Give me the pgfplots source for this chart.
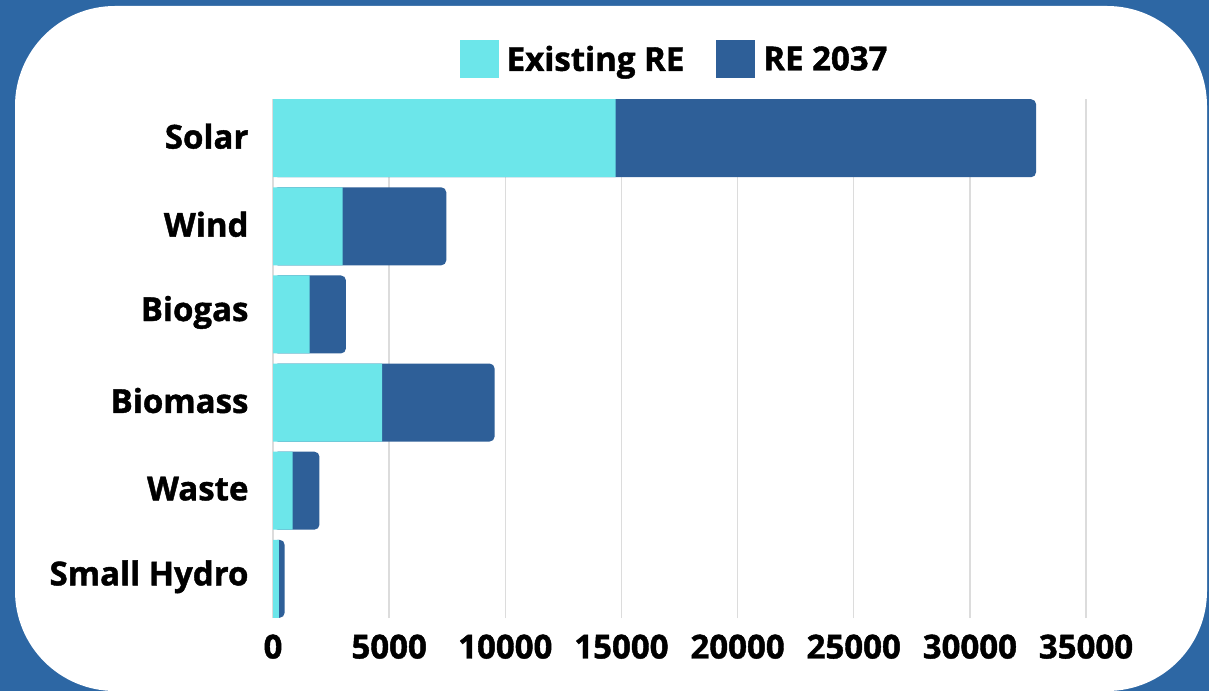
\documentclass[border=0pt]{standalone}
\usepackage{fontspec}
\setmainfont{Open Sans}[BoldFeatures={FakeBold=1.3}]
\usepackage{pgfplots}
\pgfplotsset{compat=1.18}
\definecolor{cyanre}{HTML}{6CE6EA}
\definecolor{bluere}{HTML}{2E5F98}
\definecolor{bgblue}{HTML}{2D67A4}
\definecolor{gridgray}{HTML}{DCDCDC}
\begin{document}
\begin{tikzpicture}
\path[use as bounding box] (0pt,0pt) rectangle (1209pt,691pt);
\fill[bgblue] (0pt,0pt) rectangle (1209pt,691pt);
\fill[white, rounded corners=100pt] (15pt,0pt) rectangle (1207pt,685pt);
\begin{axis}[
  at={(273pt,73pt)}, anchor=south west,
  scale only axis, width=813pt, height=519pt,
  xmin=0, xmax=35000, ymin=-0.445, ymax=5.445,
  xbar, bar width=78pt, bar shift=0pt,
  xtick={0,5000,...,35000},
  ytick={0,1,2,3,4,5},
  yticklabels={Small Hydro,Waste,Biomass,Biogas,Wind,Solar},
  scaled x ticks=false,
  xticklabel style={/pgf/number format/.cd, set thousands separator={}, assume math mode=true, /tikz/.cd, font=\bfseries\fontsize{33}{33}\selectfont, yshift=-13pt},
  yticklabel style={font=\bfseries\fontsize{33}{33}\selectfont, xshift=-21pt, yshift=2pt},
  major tick length=0pt,
  axis line style={draw=none},
  xmajorgrids, major grid style={draw=gridgray, line width=1.5pt},
  legend image code/.code={\fill[#1, sharp corners] (0pt,-19pt) rectangle (39pt,19pt);},
  reverse legend,
  legend style={at={(0.494,1.077)}, anchor=center, draw=none, fill=none,
    legend columns=-1, font=\bfseries\fontsize{33}{33}\selectfont,
    /tikz/every odd column/.append style={column sep=6pt},
    /tikz/every even column/.append style={column sep=30pt}},
]
\addplot[fill=bluere, draw=none, rounded corners=5pt] coordinates {
  (500,0) (2000,1) (9540,2) (3140,3) (7460,4) (32850,5)};
\addlegendentry{RE 2037}
\addplot[fill=cyanre, draw=none] coordinates {
  (250,0) (850,1) (4700,2) (1580,3) (3000,4) (14750,5)};
\addlegendentry{Existing RE}
\end{axis}
\end{tikzpicture}
\end{document}
